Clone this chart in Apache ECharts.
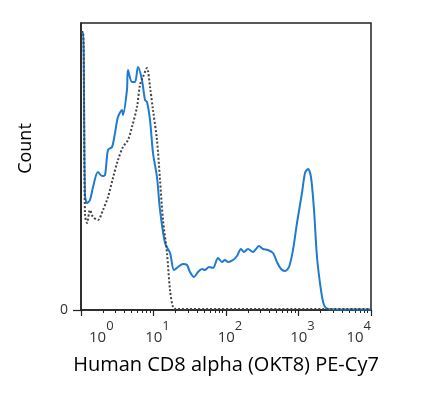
<!DOCTYPE html>
<html>
<head>
<meta charset="utf-8">
<script src="https://cdn.jsdelivr.net/npm/echarts@6/dist/echarts.min.js"></script>
<style>
html,body{margin:0;padding:0;background:#fff;}
#chart{width:429px;height:393px;}
</style>
</head>
<body>
<div id="chart"></div>
<script>
// x positions are log10(intensity); counts
const stainedLogX = [0.000,0.028,0.055,0.083,0.124,0.166,0.234,0.290,0.331,0.372,0.428,0.469,0.510,0.566,0.579,0.634,0.648,0.703,0.745,0.786,0.841,0.883,0.910,0.952,0.993,1.048,1.090,1.159,1.228,1.283,1.338,1.407,1.462,1.503,1.559,1.614,1.669,1.710,1.766,1.821,1.890,1.945,1.986,2.028,2.097,2.152,2.207,2.248,2.303,2.372,2.414,2.455,2.510,2.579,2.648,2.703,2.759,2.814,2.869,2.924,2.979,3.048,3.090,3.131,3.172,3.214,3.255,3.310,3.352,3.407,3.572,4.000];
const stainedCount = [278,278,115,107,110,123,138,134,135,160,163,177,193,200,195,220,240,228,228,243,230,210,208,190,157,133,100,67,57,40,43,46,45,38,33,38,41,40,43,42,52,48,50,48,50,54,61,58,61,58,61,64,61,60,57,48,41,39,43,60,87,117,137,141,133,100,53,20,5,1,0.5,0.5];
const controlLogX = [0.000,0.028,0.055,0.083,0.124,0.166,0.234,0.303,0.372,0.441,0.510,0.579,0.648,0.703,0.772,0.814,0.855,0.910,0.952,0.993,1.048,1.090,1.131,1.186,1.228,1.269,1.310,4.000];
const controlCount = [278,278,95,87,100,93,90,100,113,132,150,163,170,183,203,225,233,242,223,200,170,130,90,57,20,3,1,1];
const majorDecades = [0,1,2,3,4];
const minorMultipliers = [2,3,4,5,6,7,8,9];

const minorTicks = [];
for (let d = 0; d < 4; d++) {
  minorMultipliers.forEach(k => minorTicks.push(d + Math.log10(k)));
}
const pair = (xs, ys) => xs.map((x, i) => [x, ys[i]]);

const chart = echarts.init(document.getElementById('chart'));
const font = 'Open Sans';
chart.setOption({
  animation: false,
  backgroundColor: '#fff',
  grid: {left: 81, right: 58, top: 23, bottom: 83, show: true, borderColor: '#222', borderWidth: 1.5, backgroundColor: 'transparent'},
  xAxis: [{
    type: 'value', min: 0, max: 4, interval: 1,
    name: 'Human CD8 alpha (OKT8) PE-Cy7', nameLocation: 'middle', nameGap: 45,
    nameTextStyle: {fontFamily: font, fontSize: 20, color: '#000'},
    axisLine: {show: true, lineStyle: {color: '#222', width: 1.5}},
    axisTick: {show: true, length: 6, lineStyle: {color: '#222', width: 1.2}, customValues: majorDecades},
    splitLine: {show: false},
    axisLabel: {
      margin: 10, customValues: majorDecades,
      alignMinLabel: 'left', alignMaxLabel: 'right',
      padding: [0, 0, 0, 8],
      formatter: v => '{b|10}{s|' + v + '}',
      rich: {
        b: {fontFamily: font, fontSize: 15, color: '#333', padding: [10, 0, 0, 0]},
        s: {fontFamily: font, fontSize: 13, color: '#333', padding: [0, 0, 12, 0]}
      }
    }
  }, {
    type: 'value', min: 0, max: 4, position: 'bottom', gridIndex: 0,
    axisLine: {show: false},
    axisLabel: {show: false},
    splitLine: {show: false},
    axisTick: {show: true, length: 3, lineStyle: {color: '#222', width: 1}, customValues: minorTicks}
  }],
  yAxis: {
    type: 'value', min: 0, max: 287,
    name: 'Count', nameLocation: 'middle', nameGap: 46,
    nameTextStyle: {fontFamily: font, fontSize: 18, fontWeight: 500, color: '#000', padding: [0, 0, 0, 36]},
    axisLine: {show: true, lineStyle: {color: '#222', width: 1.5}},
    axisTick: {show: true, length: 8, lineStyle: {color: '#222', width: 1.2}, customValues: [0]},
    axisLabel: {customValues: [0], margin: 13, fontFamily: font, fontSize: 14, color: '#333', padding: [0, 0, 6, 0]},
    splitLine: {show: false}
  },
  series: [{
    type: 'line', name: 'CD8 alpha', xAxisIndex: 0,
    data: pair(stainedLogX, stainedCount),
    showSymbol: false, smooth: 0.3,
    lineStyle: {color: '#1f7ad2', width: 2}
  }, {
    type: 'line', name: 'Isotype', xAxisIndex: 0,
    data: pair(controlLogX, controlCount),
    showSymbol: false, smooth: 0.3,
    lineStyle: {color: '#444', width: 2, type: [2, 2]}
  }]
});
</script>
</body>
</html>
